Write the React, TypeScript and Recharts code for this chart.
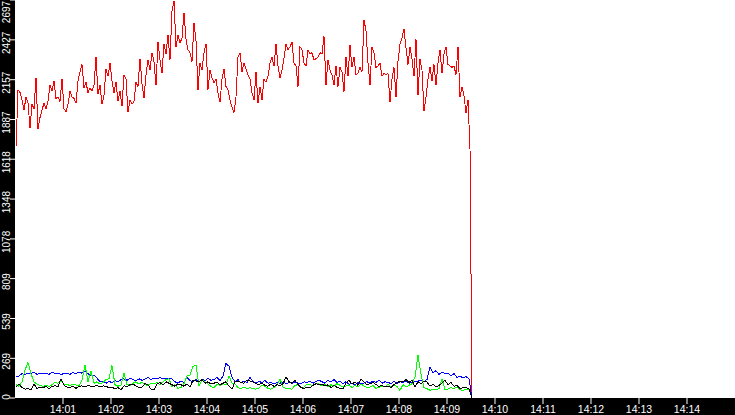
// Traffic-style strip chart: four series over ~9.5 minutes on a 15-minute
// window, white plot on a black frame with rotated y labels.
import { LineChart, Line, XAxis, YAxis, CartesianGrid } from "recharts";

const W = 735;
const H = 415;

// time axis, seconds after 14:00
const X_DOMAIN: [number, number] = [0, 900];
const X_TICK_LABELS = [
  "14:01", "14:02", "14:03", "14:04", "14:05", "14:06", "14:07",
  "14:08", "14:09", "14:10", "14:11", "14:12", "14:13", "14:14",
];
const Y_TICKS = [0, 269, 539, 809, 1078, 1348, 1618, 1887, 2157, 2427, 2697];

const RED_T0 = 1.25;
const RED_STEP = 2.5;
const LOW_T0 = 1.25;
const LOW_STEP = 3.75;

// red series, one sample every 2.5 s
const RED = [
  1700, 2087, 2070, 2019, 1950, 2040, 2000, 1830, 1990, 1960,
  2170, 1820, 1900, 1950, 2000, 1960, 2010, 2120, 2080, 2150,
  2030, 2040, 2010, 2160, 1960, 1940, 1990, 2080, 2040, 2030,
  2000, 2150, 2210, 2260, 2100, 2140, 2070, 2100, 2080, 2120,
  2310, 2060, 2120, 1990, 2050, 2230, 2180, 2270, 2150, 2070,
  2140, 2010, 2080, 1980, 2190, 2160, 1940, 2020, 1990, 2010,
  2140, 2110, 2300, 2130, 2030, 2190, 2290, 2220, 2340, 2280,
  2120, 2410, 2290, 2200, 2400, 2330, 2460, 2290, 2620, 2690,
  2380, 2460, 2405, 2440, 2610, 2430, 2360, 2340, 2280, 2540,
  2420, 2087, 2270, 2220, 2340, 2400, 2090, 2220, 2170, 2135,
  2160, 2067, 2005, 2160, 2230, 2110, 2090, 2020, 1970, 1935,
  2040, 2310, 2340, 2210, 2270, 2230, 2190, 2160, 2070, 2020,
  2210, 2000, 2110, 2020, 2160, 2140, 2180, 2270, 2310, 2250,
  2400, 2250, 2170, 2220, 2300, 2400, 2360, 2380, 2410, 2270,
  2250, 2110, 2380, 2360, 2270, 2250, 2360, 2330, 2340, 2290,
  2300, 2310, 2340, 2330, 2450, 2120, 2290, 2220, 2190, 2120,
  2250, 2110, 2240, 2210, 2075, 2310, 2180, 2390, 2240, 2310,
  2190, 2200, 2240, 2210, 2560, 2490, 2270, 2120, 2380, 2340,
  2240, 2250, 2270, 2180, 2200, 2190, 2200, 2005, 2160, 2240,
  2040, 2280, 2400, 2440, 2500, 2370, 2260, 2380, 2300, 2180,
  2430, 2050, 2300, 2220, 1945, 2040, 2160, 2240, 2150, 2260,
  2120, 2270, 2360, 2200, 2330, 2380, 2260, 2250, 2240, 2250,
  2190, 2380, 2040, 2110, 2050, 1930, 2020, 1690, 0,
];

// low series, one sample every 3.75 s
const BLUE = [
  142, 150, 165, 160, 170, 165, 176, 160, 170, 165,
  170, 160, 176, 165, 170, 160, 165, 170, 160, 172,
  165, 176, 168, 180, 165, 150, 155, 135, 110, 115,
  100, 112, 105, 118, 110, 125, 130, 120, 135, 125,
  118, 130, 120, 128, 140, 125, 135, 130, 140, 128,
  135, 130, 130, 110, 100, 115, 105, 140, 120, 108,
  125, 110, 130, 115, 135, 120, 125, 140, 118, 150,
  235, 215, 140, 110, 125, 100, 115, 105, 140, 110,
  100, 112, 105, 118, 100, 105, 95, 105, 100, 108,
  97, 105, 100, 110, 100, 95, 110, 105, 115, 100,
  112, 120, 110, 100, 120, 108, 125, 105, 115, 97,
  110, 92, 100, 88, 105, 95, 102, 110, 100, 115,
  105, 120, 100, 110, 105, 98, 112, 100, 110, 103,
  115, 100, 108, 110, 115, 120, 112, 125, 210, 170,
  185, 160, 175, 165, 170, 150, 165, 140, 150, 135,
  145, 130, 0,
];

const GREEN = [
  90, 80, 110, 190, 240, 165, 108, 95, 86, 80,
  86, 78, 90, 105, 100, 115, 95, 90, 86, 92,
  88, 80, 120, 225, 110, 180, 100, 110, 95, 105,
  125, 130, 220, 90, 80, 88, 170, 92, 86, 100,
  110, 95, 108, 90, 86, 100, 95, 105, 92, 110,
  125, 130, 75, 90, 65, 72, 97, 150, 154, 215,
  221, 80, 125, 110, 95, 78, 70, 92, 86, 97,
  90, 150, 100, 95, 70, 65, 75, 63, 70, 65,
  60, 68, 86, 80, 65, 60, 70, 85, 130, 75,
  63, 65, 60, 86, 90, 70, 75, 95, 90, 85,
  97, 95, 80, 95, 75, 90, 80, 97, 86, 75,
  80, 90, 70, 86, 75, 95, 80, 70, 75, 86,
  65, 72, 80, 75, 95, 70, 85, 78, 52, 90,
  75, 86, 97, 142, 291, 160, 70, 63, 52, 60,
  55, 63, 131, 55, 60, 70, 63, 75, 55, 52,
  60, 55,
];

const BLACK = [
  75, 95, 70, 60, 65, 55, 97, 63, 75, 68,
  80, 63, 78, 83, 75, 131, 86, 75, 70, 80,
  65, 78, 82, 75, 86, 78, 80, 86, 75, 82,
  80, 68, 72, 63, 70, 55, 82, 78, 90, 95,
  80, 70, 75, 97, 90, 60, 55, 95, 105, 90,
  110, 100, 90, 80, 95, 90, 80, 95, 75, 120,
  115, 110, 125, 100, 110, 95, 100, 108, 90, 100,
  110, 80, 60, 110, 115, 105, 100, 120, 115, 108,
  97, 92, 100, 86, 80, 95, 78, 90, 85, 97,
  142, 110, 100, 120, 90, 72, 63, 75, 70, 86,
  97, 92, 95, 80, 90, 70, 85, 72, 65, 63,
  100, 120, 95, 108, 86, 130, 110, 90, 97, 105,
  92, 78, 86, 75, 80, 70, 92, 100, 115, 110,
  125, 105, 120, 75, 110, 97, 115, 108, 80, 92,
  75, 86, 100, 120, 90, 105, 80, 86, 65, 70,
  72, 60, 0,
];

const toSeries = (vals: number[], t0: number, step: number) =>
  vals.map((v, i) => ({ t: t0 + i * step, v }));

const redData = toSeries(RED, RED_T0, RED_STEP);
const blueData = toSeries(BLUE, LOW_T0, LOW_STEP);
const greenData = toSeries(GREEN, LOW_T0, LOW_STEP);
const blackData = toSeries(BLACK, LOW_T0, LOW_STEP);

const X_TICKS = X_TICK_LABELS.map((_, i) => (i + 1) * 60);

const FONT = "'Liberation Sans', Arial, sans-serif";

function XTick(props: any) {
  const { x, payload } = props;
  const idx = X_TICKS.indexOf(payload.value);
  return (
    <text x={x} y={413} textAnchor="middle" fill="#fff" fontSize={10.5} fontFamily={FONT}>
      {X_TICK_LABELS[idx] ?? ""}
    </text>
  );
}

function YTick(props: any) {
  const { y, payload } = props;
  // keep the end labels inside the frame
  const cy = Math.min(Math.max(y + 3, 12), 397);
  return (
    <text
      transform={`translate(10, ${cy}) rotate(-90)`}
      textAnchor="middle"
      fill="#fff"
      fontSize={10}
      fontFamily={FONT}
    >
      {payload.value}
    </text>
  );
}

export default function App() {
  return (
    <div style={{ width: W, height: H, background: "#000" }}>
      <style>{"body{margin:0}"}</style>
      <LineChart width={W} height={H} margin={{ top: 0, right: 0, bottom: 0, left: 0 }}>
        <CartesianGrid horizontal={false} vertical={false} fill="#fff" fillOpacity={1} />
        <XAxis
          type="number"
          dataKey="t"
          domain={X_DOMAIN}
          ticks={X_TICKS}
          height={17}
          axisLine={false}
          tickLine={{ stroke: "#fff" }}
          tickSize={6}
          tick={<XTick />}
          allowDataOverflow
        />
        <YAxis
          type="number"
          domain={[0, 2697]}
          ticks={Y_TICKS}
          width={15}
          axisLine={false}
          tickLine={{ stroke: "#fff" }}
          tickSize={5}
          tick={<YTick />}
          allowDataOverflow
        />
        <Line data={redData} dataKey="v" stroke="#ff0000" strokeWidth={1} dot={false} isAnimationActive={false} shapeRendering="crispEdges" />
        <Line data={blueData} dataKey="v" stroke="#0000ff" strokeWidth={1} dot={false} isAnimationActive={false} shapeRendering="crispEdges" />
        <Line data={greenData} dataKey="v" stroke="#00ff00" strokeWidth={1} dot={false} isAnimationActive={false} shapeRendering="crispEdges" />
        <Line data={blackData} dataKey="v" stroke="#000000" strokeWidth={1} dot={false} isAnimationActive={false} shapeRendering="crispEdges" />
      </LineChart>
    </div>
  );
}
